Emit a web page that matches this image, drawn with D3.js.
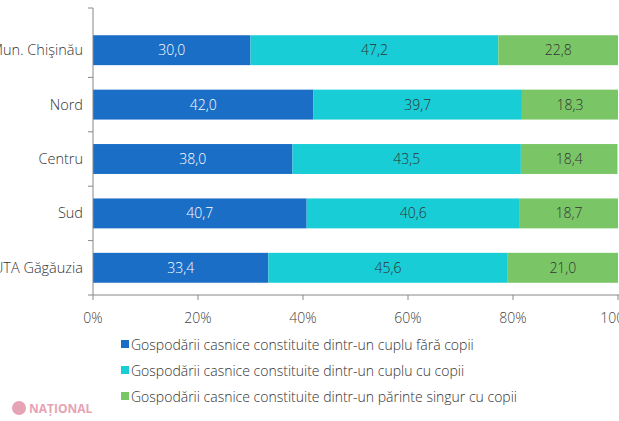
<!DOCTYPE html>
<html><head><meta charset="utf-8">
<script src="https://cdn.jsdelivr.net/npm/d3@7"></script>
<style>body{margin:0;background:#fff;} text{font-family:"Open Sans",Lato,sans-serif;font-weight:300;}</style>
</head><body><div id="chart"></div>
<script>
const width = 619, height = 421;
const margin = { left: 93, right: 1, top: 23, bottom: 126 };

const regions = ["Mun. Chişinău", "Nord", "Centru", "Sud", "UTA Găgăuzia"];
const seriesNames = [
  "Gospodării casnice constituite dintr-un cuplu fără copii",
  "Gospodării casnice constituite dintr-un cuplu cu copii",
  "Gospodării casnice constituite dintr-un părinte singur cu copii"
];
const coupleNoKids = [30.0, 42.0, 38.0, 40.7, 33.4];
const coupleKids = [47.2, 39.7, 43.5, 40.6, 45.6];
const singleParent = [22.8, 18.3, 18.4, 18.7, 21.0];
const colors = ["#1b6ec6", "#18cdd6", "#7ac667"];
const xTicks = [0, 20, 40, 60, 80, 100];

const svg = d3.select("#chart").append("svg").attr("width", width).attr("height", height);

const x = d3.scaleLinear().domain([0, 100]).range([margin.left, width - margin.right]);
const y = d3.scaleBand().domain(regions).range([margin.top, height - margin.bottom]).paddingInner(0.45).paddingOuter(0.225);

const series = [coupleNoKids, coupleKids, singleParent];
const rows = regions.map((r, i) => {
  let acc = 0;
  return series.map((s, k) => { const d = { r, k, v: s[i], x0: acc }; acc += s[i]; d.x1 = acc; return d; });
}).flat();

svg.selectAll("rect.bar").data(rows).enter().append("rect")
  .attr("x", d => x(d.x0)).attr("width", d => x(d.x1) - x(d.x0))
  .attr("y", d => y(d.r)).attr("height", y.bandwidth())
  .attr("fill", d => colors[d.k]);

svg.selectAll("text.val").data(rows).enter().append("text")
  .attr("x", d => x((d.x0 + d.x1) / 2)).attr("y", d => y(d.r) + y.bandwidth() / 2 + 5)
  .attr("text-anchor", "middle").attr("font-size", 14)
  .attr("fill", d => d.k === 0 ? "#fff" : "#333")
  .text(d => d.v.toFixed(1).replace(".", ","));

// axes
const axisColor = "#888";
const bottom = height - margin.bottom;
svg.append("line").attr("x1", margin.left).attr("x2", margin.left).attr("y1", margin.top - 15).attr("y2", bottom).attr("stroke", axisColor);
svg.append("line").attr("x1", margin.left).attr("x2", width).attr("y1", bottom).attr("y2", bottom).attr("stroke", axisColor);
const step = y.step();
d3.range(regions.length + 1).forEach(i => {
  const yy = margin.top + i * step - 15 * (i === 0);
  svg.append("line").attr("x1", margin.left - 5).attr("x2", margin.left).attr("y1", yy).attr("y2", yy).attr("stroke", axisColor);
});
svg.selectAll("line.xt").data(xTicks).enter().append("line")
  .attr("x1", d => x(d)).attr("x2", d => x(d)).attr("y1", bottom).attr("y2", bottom + 5).attr("stroke", axisColor);
svg.selectAll("text.xl").data(xTicks).enter().append("text")
  .attr("x", d => x(d)).attr("y", bottom + 28).attr("text-anchor", "middle")
  .attr("font-size", 14).attr("fill", "#444").text(d => d + "%");
svg.selectAll("text.yl").data(regions).enter().append("text")
  .attr("x", margin.left - 10).attr("y", d => y(d) + y.bandwidth() / 2 + 5)
  .attr("text-anchor", "end").attr("font-size", 14.5).attr("fill", "#333").text(d => d);

// legend
const lg = svg.selectAll("g.lg").data(seriesNames).enter().append("g")
  .attr("transform", (d, i) => `translate(121,${350 + i * 26})`);
lg.append("rect").attr("x", 0).attr("y", -10).attr("width", 8).attr("height", 8).attr("fill", (d, i) => colors[i]);
lg.append("text").attr("x", 10).attr("y", 0).attr("font-size", 14).attr("fill", "#333").text(d => d);

// watermark
svg.append("circle").attr("cx", 19).attr("cy", 408).attr("r", 7).attr("fill", "#e6a3b4");
svg.append("text").attr("x", 29).attr("y", 413).attr("font-size", 12).style("font-weight", 700)
  .attr("fill", "#e6a3b4").text("NAȚIONAL");
</script></body></html>
